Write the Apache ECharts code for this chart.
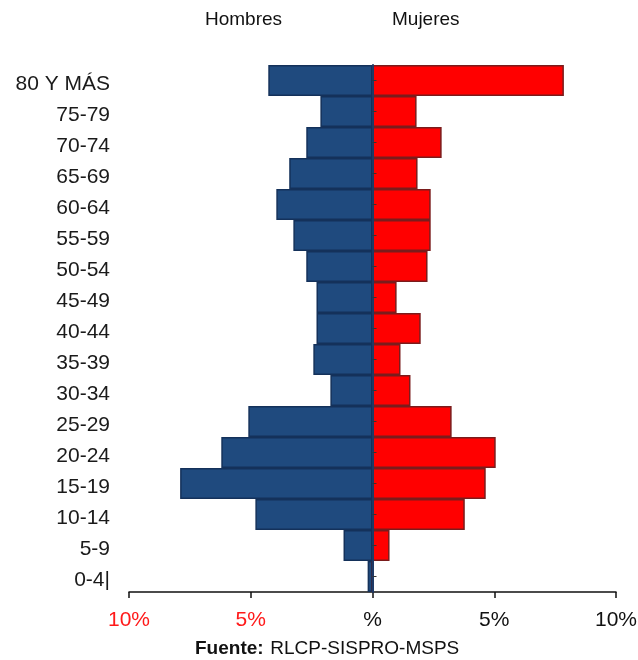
<!DOCTYPE html>
<html>
<head>
<meta charset="utf-8">
<script src="https://cdn.jsdelivr.net/npm/echarts@6/dist/echarts.min.js"></script>
<style>
  html, body { margin: 0; padding: 0; background: #ffffff; }
  #chart { width: 638px; height: 660px; }
</style>
</head>
<body>
<div id="chart"></div>
<script>
// Age groups, top to bottom
const categories = ['80 Y MÁS', '75-79', '70-74', '65-69', '60-64', '55-59', '50-54', '45-49',
  '40-44', '35-39', '30-34', '25-29', '20-24', '15-19', '10-14', '5-9', '0-4|'];
// Percent of population (Hombres drawn to the left)
const hombres = [4.28, 2.14, 2.72, 3.42, 3.95, 3.25, 2.72, 2.30, 2.30, 2.43, 1.73, 5.10, 6.21, 7.90, 4.81, 1.19, 0.2];
const mujeres = [7.86, 1.81, 2.84, 1.85, 2.39, 2.39, 2.26, 0.99, 1.98, 1.15, 1.56, 3.25, 5.06, 4.65, 3.79, 0.70, 0];
const xTickValues = [-10, -5, 0, 5, 10];
const xTickLabels = ['10%', '5%', '%', '5%', '10%'];
const seriesNames = ['Hombres', 'Mujeres'];
const sourceLabel = 'Fuente:';
const sourceText = 'RLCP-SISPRO-MSPS';

const FONT = 'Liberation Sans, Arial, sans-serif';
const chart = echarts.init(document.getElementById('chart'), null, { renderer: 'canvas' });

chart.setOption({
  animation: false,
  backgroundColor: '#ffffff',
  grid: { left: 129, right: 22, top: 65, bottom: 68, containLabel: false, outerBoundsMode: 'none' },
  xAxis: {
    type: 'value',
    min: -10, max: 10, interval: 5,
    splitLine: { show: false },
    axisLine: { show: true, onZero: false, lineStyle: { color: '#111', width: 1.5 } },
    axisTick: { show: true, length: 6, lineStyle: { color: '#111', width: 1.5 } },
    axisLabel: {
      margin: 18,
      fontFamily: FONT, fontSize: 21,
      formatter: function (v) { return xTickLabels[xTickValues.indexOf(v)]; },
      color: function (v) { return Number(v) < 0 ? '#ff1a1a' : '#111'; }
    }
  },
  yAxis: [
    {
      type: 'category',
      position: 'left',
      inverse: true,
      data: categories,
      axisLine: { show: false, onZero: false },
      axisTick: { show: false },
      splitLine: { show: false },
      axisLabel: {
        margin: 19,
        formatter: function (v) { return '{a|' + v + '}'; },
        rich: { a: { fontFamily: FONT, fontSize: 21, color: '#1a1a1a', padding: [7, 0, 0, 0] } }
      }
    },
    {
      type: 'category',
      position: 'right',
      inverse: true,
      data: categories,
      z: 5,
      axisLine: { show: true, onZero: true, lineStyle: { color: '#1f3a66', width: 2 } },
      axisTick: { show: true, inside: false, alignWithLabel: true, length: 4, lineStyle: { color: '#333', width: 1 } },
      splitLine: { show: false },
      axisLabel: { show: false }
    }
  ],
  graphic: [
    { type: 'text', left: 205, top: 10, style: { text: seriesNames[0], font: '19px ' + FONT, fill: '#111' } },
    { type: 'text', left: 392, top: 10, style: { text: seriesNames[1], font: '19px ' + FONT, fill: '#111' } },
    { type: 'text', left: 195, top: 639, style: {
        text: '{b|' + sourceLabel + '}  {n|' + sourceText + '}',
        rich: {
          b: { font: 'bold 19px ' + FONT, fill: '#111' },
          n: { font: '19px ' + FONT, fill: '#111' }
        }
    } }
  ],
  series: [
    {
      name: seriesNames[0], type: 'bar', yAxisIndex: 0,
      data: hombres.map(v => -v),
      barCategoryGap: 0, barGap: '-100%',
      itemStyle: { color: '#1f4a7e', borderColor: '#14315a', borderWidth: 1.5 },
      z: 2
    },
    {
      name: seriesNames[1], type: 'bar', yAxisIndex: 0,
      data: mujeres,
      barCategoryGap: 0, barGap: '-100%',
      itemStyle: { color: '#ff0000', borderColor: '#7a1c1c', borderWidth: 1.5 },
      z: 2
    }
  ]
});
</script>
</body>
</html>
